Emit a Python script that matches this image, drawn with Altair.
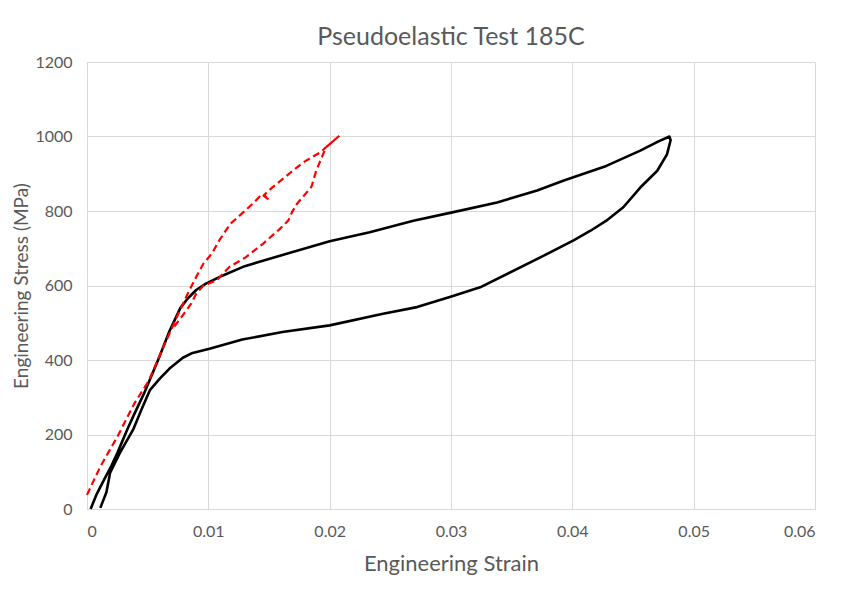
import altair as alt
import pandas as pd

# Black test curve (loading then unloading)
black_strain = [0.0003, 0.0008, 0.0014, 0.0020, 0.0025, 0.0033, 0.0040, 0.0047, 0.0058, 0.0068,
                0.0077, 0.0083, 0.0090, 0.0098, 0.0112, 0.0130, 0.0159, 0.0200, 0.0233, 0.0269,
                0.0302, 0.0338, 0.0371, 0.0393, 0.0428, 0.0456, 0.0471, 0.0480,
                0.0481, 0.0478, 0.0470, 0.0456, 0.0442, 0.0428, 0.0415, 0.0401, 0.0374, 0.0324,
                0.0299, 0.0272, 0.0244, 0.0200, 0.0161, 0.0128, 0.0101, 0.0087, 0.0079, 0.0068,
                0.0060, 0.0052, 0.0045, 0.0038, 0.0027, 0.0019, 0.0018, 0.0016, 0.0011]
black_stress = [0, 40, 78, 115, 150, 212, 262, 310, 395, 478,
                540, 565, 588, 605, 627, 652, 680, 719, 743, 774,
                797, 823, 855, 882, 921, 962, 987, 1000,
                990, 952, 908, 863, 810, 774, 747, 721, 676, 595,
                569, 542, 524, 493, 475, 455, 430, 419, 406, 377,
                350, 320, 268, 213, 150, 97, 79, 45, 3]

# Red dashed test curve
red_strain = [0.0000, 0.0011, 0.0025, 0.0039, 0.0051, 0.0063, 0.0074, 0.0083, 0.0090, 0.0096,
              0.0103, 0.0109, 0.0118, 0.0130, 0.0138, 0.0144, 0.0150, 0.0146, 0.0153, 0.0170,
              0.0178, 0.0192, 0.0203, 0.0208,
              0.0197, 0.0189, 0.0185, 0.0173, 0.0169, 0.0166, 0.0159, 0.0145, 0.0131, 0.0117,
              0.0107, 0.0096, 0.0090, 0.0086, 0.0082, 0.0078, 0.0072]
red_stress = [38, 114, 194, 283, 345, 435, 515, 578, 623, 659,
              686, 721, 765, 800, 824, 845, 830, 843, 864, 909,
              930, 957, 988, 1002,
              971, 909, 865, 819, 797, 775, 752, 712, 676, 649,
              614, 600, 578, 552, 534, 516, 490]

x_ticks = [0, 0.01, 0.02, 0.03, 0.04, 0.05, 0.06]
y_ticks = [0, 200, 400, 600, 800, 1000, 1200]

rows = []
for i, (s, t) in enumerate(zip(black_strain, black_stress)):
    rows.append({"series": "black", "strain": s, "stress": t, "idx": i})
for i, (s, t) in enumerate(zip(red_strain, red_stress)):
    rows.append({"series": "red", "strain": s, "stress": t, "idx": i})
df = pd.DataFrame(rows)

FONT = "Lato"
GREY = "#595959"

x_enc = alt.X("strain:Q", scale=alt.Scale(domain=[0, 0.06], nice=False),
              axis=alt.Axis(values=x_ticks, title="Engineering Strain",
                            labelExpr="datum.value == 0 ? '0' : format(datum.value, '.2f')",
                            grid=True, ticks=False, labelPadding=14, titlePadding=14,
                            titleFontSize=22, domainColor="#d9d9d9"))
y_enc = alt.Y("stress:Q", scale=alt.Scale(domain=[0, 1200], nice=False),
              axis=alt.Axis(values=y_ticks, title="Engineering Stress (MPa)", format="d",
                            grid=True, ticks=False, labelPadding=15, titlePadding=3,
                            titleFontSize=19, domainColor="#d9d9d9"))

black = alt.Chart(df[df.series == "black"]).mark_line(
    color="#000000", strokeWidth=2.6, strokeJoin="round"
).encode(x=x_enc, y=y_enc, order="idx:Q")

red = alt.Chart(df[df.series == "red"]).mark_line(
    color="#ff0000", strokeWidth=2.2, strokeDash=[7, 4]
).encode(x=x_enc, y=y_enc, order="idx:Q")

chart = alt.layer(black, red).properties(
    width=728, height=447,
    background="white",
    title=alt.TitleParams("Pseudoelastic Test 185C", font=FONT, fontSize=25,
                          fontWeight="normal", color=GREY, anchor="middle", offset=4),
    autosize=alt.AutoSizeParams(type="none"),
    padding={"left": 79, "top": 54, "right": 31, "bottom": 74},
).configure_view(stroke=None).configure_axis(
    labelFont=FONT, labelFontSize=16, labelColor=GREY,
    titleFont=FONT, titleFontWeight="normal", titleColor=GREY,
    gridColor="#d9d9d9", gridWidth=1, domainWidth=1,
)

chart.save("out.html", embed_options={"renderer": "svg", "actions": False})
